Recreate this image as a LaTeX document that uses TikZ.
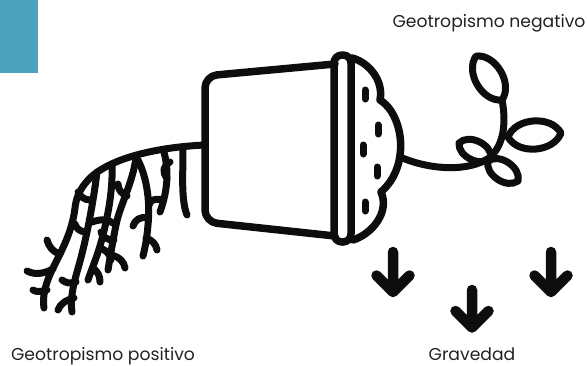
\documentclass[tikz,border=0pt]{standalone}
\usepackage{fontspec}
\setmainfont{Poppins}
\definecolor{tealblue}{HTML}{4DA3BE}
\definecolor{ink}{HTML}{0D0D0D}
\definecolor{labelgray}{HTML}{222222}
\tikzset{
  outline/.style={draw=ink, line width=7.5pt, line cap=round, line join=round},
  rootline/.style={draw=ink, line width=7pt, line cap=round, line join=round},
  soilmark/.style={draw=ink, line width=7pt, line cap=round},
  gravity/.style={draw=ink, line width=10.5pt, line cap=round, line join=round},
  leaf/.style={outline, line width=7pt},
  caption/.style={font=\fontsize{17.2}{19}\selectfont, text=labelgray, inner sep=0pt, anchor=base}
}
\begin{document}
\begin{tikzpicture}[x=1pt, y=-1pt]
\path[use as bounding box] (0,0) rectangle (587,365);

% corner tab
\fill[tealblue] (0,0) rectangle (38,73);

% pot body lying on its side
\draw[outline, rounded corners=12pt] (335,64) -- (205,76) -- (205,222) -- (335,236);
% rim
\draw[outline, rounded corners=8pt] (334,55) rectangle (351,242);
% soil spilling out of the rim
\draw[outline] (352,58) .. controls (368,62) and (384,80) .. (380,100)
  .. controls (396,110) and (403,135) .. (400,155)
  .. controls (398,172) and (390,184) .. (381,192)
  .. controls (390,212) and (372,234) .. (353,240);
\foreach \x/\y in {365/90, 378/125, 363/145, 377/167, 365/202}
  \draw[soilmark] (\x,\y) -- (\x,\y+9);

% stem bending upwards
\draw[outline, line width=7pt] (400,157) .. controls (430,170) and (468,172) .. (489,158)
  .. controls (505,145) and (506,120) .. (502,100);
% leaves
\draw[leaf] (502,100) to[bend left=65] (476,56) to[bend left=65] (502,100);
\draw[leaf] (508,137) to[bend left=65] (561,133) to[bend left=65] (508,137);
\draw[leaf] (491,158) to[bend left=70] (459,143) to[bend left=70] (491,158);
\draw[leaf] (488,161) to[bend left=70] (518,181) to[bend left=70] (488,161);

% roots growing downwards
\draw[rootline] (205,145) .. controls (160,147) and (112,157) .. (90,178)
  .. controls (80,188) and (76,198) .. (75,208)
  .. controls (72,232) and (62,250) .. (53,268)
  .. controls (46,282) and (42,296) .. (44,308);
\draw[rootline] (60,254) .. controls (53,252) and (49,247) .. (47,240);
\draw[rootline] (53,269) .. controls (43,274) and (35,275) .. (27,271);
\draw[rootline] (47,290) .. controls (40,292) and (36,292) .. (33,290);
\draw[rootline] (97,172) .. controls (93,205) and (86,240) .. (79,265)
  .. controls (73,285) and (70,300) .. (72,312);
\draw[rootline] (86,232) .. controls (80,232) and (76,228) .. (75,224);
\draw[rootline] (76,282) .. controls (70,284) and (66,283) .. (62,280);
\draw[rootline] (74,298) .. controls (66,300) and (60,304) .. (58,310);
\draw[rootline] (90,200) .. controls (84,200) and (80,196) .. (78,192);
\draw[rootline] (112,164) .. controls (113,190) and (108,215) .. (103,235)
  .. controls (98,255) and (92,268) .. (88,280);
\draw[rootline] (92,222) .. controls (100,219) and (108,219) .. (113,223);
\draw[rootline] (100,248) .. controls (106,250) and (110,254) .. (111,260);
\draw[rootline] (93,268) .. controls (98,272) and (100,276) .. (100,282);
\draw[rootline] (136,158) .. controls (132,185) and (120,205) .. (116,225)
  .. controls (112,245) and (110,258) .. (108,270);
\draw[rootline] (114,240) .. controls (106,240) and (102,236) .. (101,232);
\draw[rootline] (111,255) .. controls (120,257) and (124,262) .. (125,268);
\draw[rootline] (127,196) .. controls (122,194) and (118,190) .. (118,184);
\draw[rootline] (138,160) .. controls (148,180) and (150,205) .. (148,225)
  .. controls (147,238) and (145,248) .. (143,256);
\draw[rootline] (148,218) .. controls (140,216) and (135,220) .. (133,226);
\draw[rootline] (146,238) .. controls (152,240) and (156,244) .. (157,250);
\draw[rootline] (164,152) .. controls (170,175) and (166,195) .. (160,212);
\draw[rootline] (167,178) .. controls (162,172) and (163,166) .. (170,162);
\draw[rootline] (162,200) .. controls (155,198) and (150,200) .. (149,205);
\draw[rootline] (183,149) .. controls (183,175) and (181,200) .. (187,215);

% gravity arrows
\draw[gravity] (393,252) -- (393,292) (376.5,275.5) -- (393,292) -- (409.5,275.5);
\draw[gravity] (472,290) -- (472,327.5) (455.5,311) -- (472,327.5) -- (488.5,311);
\draw[gravity] (551,252) -- (551,292) (534.5,275.5) -- (551,292) -- (567.5,275.5);

% captions
\node[caption] (neg) at (489,27) {Geotropismo negativo};
\node[caption] (pos) at (103,360) {Geotropismo positivo};
\node[caption] (grav) at (472,360) {Gravedad};
\end{tikzpicture}
\end{document}
